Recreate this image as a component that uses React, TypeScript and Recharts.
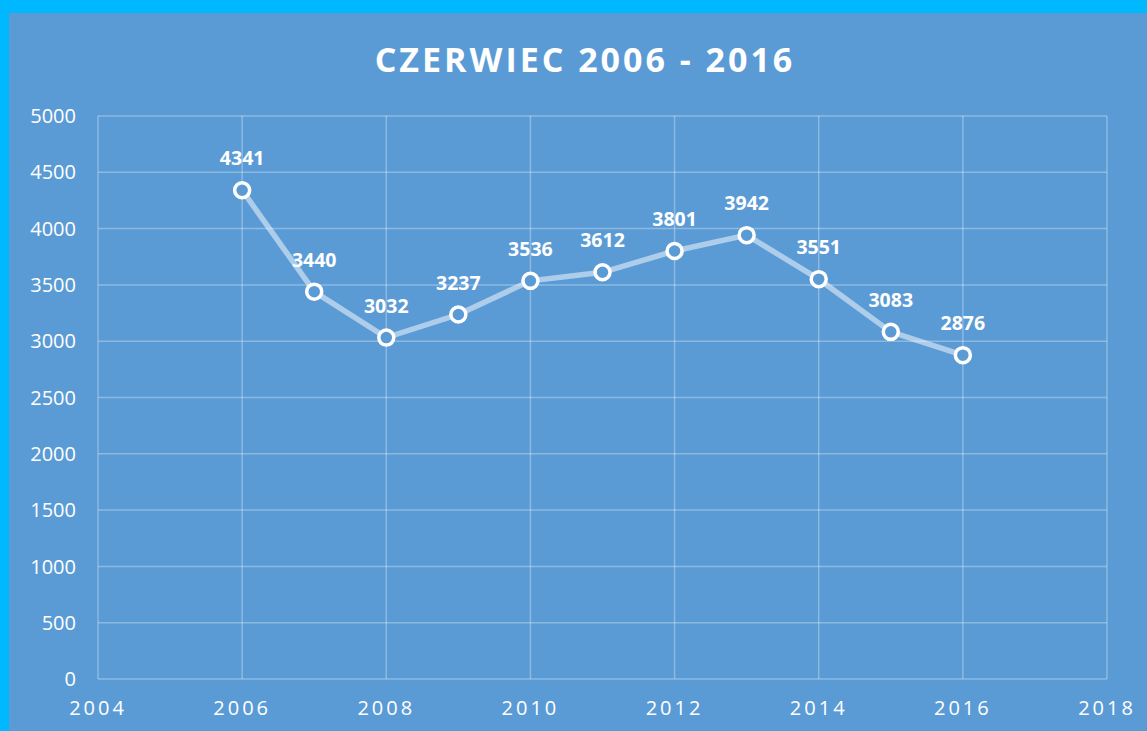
import React from 'react';
import { LineChart, Line, XAxis, YAxis, CartesianGrid, LabelList } from 'recharts';

const years = [2006, 2007, 2008, 2009, 2010, 2011, 2012, 2013, 2014, 2015, 2016];
const counts = [4341, 3440, 3032, 3237, 3536, 3612, 3801, 3942, 3551, 3083, 2876];
const xTicks = [2004, 2006, 2008, 2010, 2012, 2014, 2016, 2018];
const yTicks = [0, 500, 1000, 1500, 2000, 2500, 3000, 3500, 4000, 4500, 5000];
const title = 'CZERWIEC 2006 - 2016';

const data = years.map((year, i) => ({ year, value: counts[i] }));

const BG = '#5b9bd5';
const FONT = '"Open Sans", sans-serif';

const ValueLabel = (props: any) => {
  const { x, y, value } = props;
  return (
    <text
      x={x}
      y={y - 25}
      textAnchor="middle"
      fill="#ffffff"
      fontFamily={FONT}
      fontWeight={700}
      fontSize={19.5}
    >
      {value}
    </text>
  );
};

export default function App() {
  return (
    <div style={{ position: 'absolute', left: 0, top: 0, width: 1147, height: 731, background: '#00b8ff' }}>
      <div style={{ position: 'absolute', left: 9, top: 13, width: 1138, height: 718, background: BG }}>
        <div
          style={{
            position: 'absolute',
            left: 0,
            width: 1152,
            top: 23,
            textAlign: 'center',
            color: '#ffffff',
            fontFamily: FONT,
            fontWeight: 700,
            fontSize: 34,
            letterSpacing: 3,
            lineHeight: '46px',
          }}
        >
          {title}
        </div>
        <LineChart
          width={1138}
          height={718}
          data={data}
          margin={{ top: 103, right: 40, bottom: 0, left: 0 }}
        >
          <CartesianGrid stroke="rgba(255,255,255,0.3)" strokeWidth={1.5} />
          <XAxis
            dataKey="year"
            type="number"
            domain={[2004, 2018]}
            ticks={xTicks}
            axisLine={false}
            tickLine={false}
            tickSize={0}
            tickMargin={22}
            tick={{ fill: '#ffffff', fontSize: 20, fontFamily: FONT, letterSpacing: 3 }}
            height={52}
          />
          <YAxis
            domain={[0, 5000]}
            ticks={yTicks}
            axisLine={false}
            tickLine={false}
            tickSize={0}
            tickMargin={22}
            width={89}
            tick={{ fill: '#ffffff', fontSize: 20, fontFamily: FONT }}
          />
          <Line
            type="linear"
            dataKey="value"
            stroke="rgba(255,255,255,0.5)"
            strokeWidth={5.5}
            dot={{ r: 7.5, fill: BG, stroke: '#ffffff', strokeWidth: 3.5, fillOpacity: 1 }}
            isAnimationActive={false}
          >
            <LabelList dataKey="value" content={<ValueLabel />} />
          </Line>
        </LineChart>
      </div>
    </div>
  );
}
